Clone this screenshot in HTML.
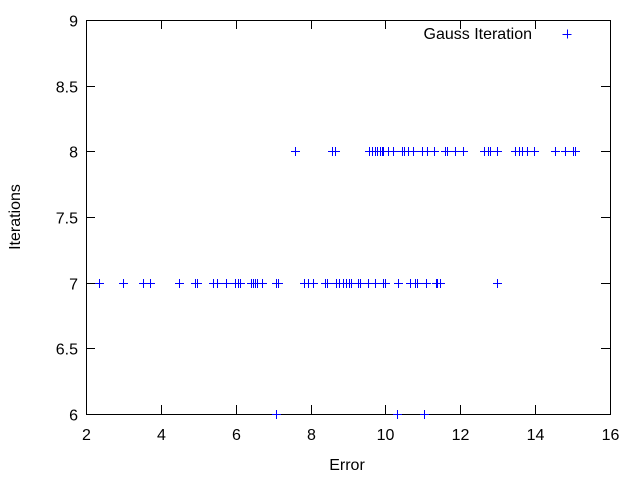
<!DOCTYPE html>
<html><head><meta charset="utf-8"><style>
body{margin:0;background:#fff}
svg text{font-family:"Liberation Sans",sans-serif;font-size:16px;fill:#000}
</style></head><body>
<svg id="chart" width="640" height="480">
<g id="axes"></g>
<g id="pts"></g>
<text x="532" y="39" text-anchor="end">Gauss Iteration</text>
<path d="M562.5 34.5h9M567.5 29.5v9" stroke="#0000ff" stroke-width="1"/>
<text x="347" y="470" text-anchor="middle">Error</text>
<text x="20" y="217" text-anchor="middle" transform="rotate(-90 20 217)">Iterations</text>
</svg>
<script>
const xTicks=[2,4,6,8,10,12,14,16];
const yTicks=[6,6.5,7,7.5,8,8.5,9];
const errors7=[2.35,2.99,3.52,3.71,4.48,4.91,4.97,5.39,5.50,5.74,5.98,6.06,6.12,6.41,6.46,6.51,6.57,6.70,7.08,7.13,7.82,7.93,8.06,8.39,8.44,8.68,8.76,8.87,8.95,9.03,9.08,9.27,9.32,9.53,9.72,9.93,9.99,10.34,10.66,10.79,10.84,11.08,11.35,11.38,11.46,12.98];
const errors8=[7.58,8.57,8.65,9.56,9.64,9.72,9.77,9.85,9.91,9.93,10.07,10.20,10.44,10.50,10.60,10.74,10.98,11.11,11.30,11.59,11.64,11.86,12.07,12.63,12.74,12.79,12.98,13.46,13.57,13.65,13.78,13.97,14.53,14.80,15.01,15.06];
const errors6=[7.08,10.31,11.03];
const L=86,R=610,T=20,B=414;
const sx=v=>L+(v-2)/14*(R-L), sy=v=>B-(v-6)/3*(B-T);
const NS="http://www.w3.org/2000/svg";
const ax=document.getElementById('axes'), pg=document.getElementById('pts');
function mk(tag,at,par){const e=document.createElementNS(NS,tag);for(const k in at)e.setAttribute(k,at[k]);par.appendChild(e);return e;}
let d="";
xTicks.forEach(v=>{const x=Math.round(sx(v))+0.5;d+=`M${x} ${B}v-9M${x} ${T}v9`;
 const t=mk('text',{x:x,y:B+26,'text-anchor':'middle'},ax);t.textContent=v;
 
 });
yTicks.forEach(v=>{const y=Math.round(sy(v))+0.5;d+=`M${L} ${y}h9M${R} ${y}h-9`;
 const t=mk('text',{x:L-8,y:y+6,'text-anchor':'end'},ax);t.textContent=v;
 
 });
const tk=mk('path',{d:d,stroke:'#000','stroke-width':1,fill:'none'},ax);


const fr=mk('rect',{x:L+0.5,y:T+0.5,width:R-L,height:B-T,fill:'none',stroke:'#000','stroke-width':1},ax);


function plot(arr,it){arr.forEach(e=>{const x=Math.round(sx(e))+0.5,y=Math.round(sy(it))+0.5;
 const p=mk('path',{d:`M${x-4.5} ${y}h9M${x} ${y-4.5}v9`,stroke:'#0000ff','stroke-width':1},pg);
 
 });}
plot(errors7,7);plot(errors8,8);plot(errors6,6);
</script>
</body></html>
